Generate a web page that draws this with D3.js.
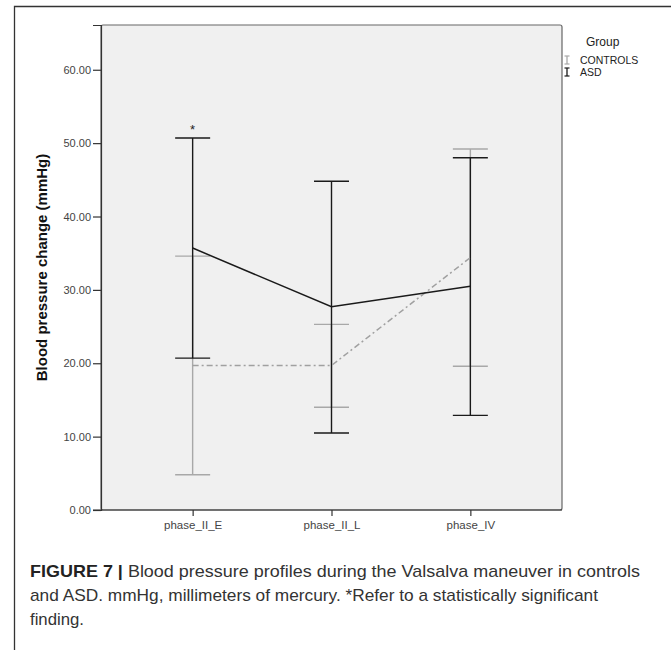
<!DOCTYPE html>
<html>
<head>
<meta charset="utf-8">
<script src="https://cdn.jsdelivr.net/npm/d3@7"></script>
<style>
  html, body { margin: 0; padding: 0; background: #fff; }
  svg { display: block; }
</style>
</head>
<body>
<svg id="chart" width="671" height="650"></svg>
<script>
// ---- data ----
const categories = ["phase_II_E", "phase_II_L", "phase_IV"];
const controlsMean  = [19.7, 19.7, 34.4];
const controlsLow   = [4.8, 14.0, 19.6];
const controlsHigh  = [34.6, 25.3, 49.2];
const asdMean  = [35.7, 27.7, 30.5];
const asdLow   = [20.7, 10.5, 12.9];
const asdHigh  = [50.7, 44.8, 48.0];
const yTicks = [0, 10, 20, 30, 40, 50, 60];
const significant = ["phase_II_E"];
const legendLabels = ["CONTROLS", "ASD"];

// ---- layout ----
const svg = d3.select("#chart");
const plot = { left: 101, right: 562, top: 25, bottom: 510 };
const font = "'Liberation Sans', Arial, sans-serif";

// outer frame
svg.append("path")
  .attr("d", "M14.5,650 L14.5,6.5 L671,6.5")
  .attr("fill", "none").attr("stroke", "#333").attr("stroke-width", 1.3);

const x = d3.scalePoint().domain(categories).range([plot.left, plot.right]).padding(0.66);
const y = d3.scaleLinear().domain([0, 66.1]).range([plot.bottom, plot.top]);

// plot background
svg.append("rect")
  .attr("x", plot.left).attr("y", plot.top)
  .attr("width", plot.right - plot.left).attr("height", plot.bottom - plot.top)
  .attr("rx", 2)
  .attr("fill", "#f0f0f0").attr("stroke", "#666").attr("stroke-width", 1.2);

// y axis
const yAxis = d3.axisLeft(y).tickValues(yTicks).tickFormat(d3.format(".2f")).tickSize(8).tickPadding(2);
const gy = svg.append("g").attr("transform", `translate(${plot.left},0)`).call(yAxis);
gy.select(".domain").attr("stroke", "#333").attr("stroke-width", 1.2);
gy.selectAll(".tick line").attr("stroke", "#333").attr("stroke-width", 1.2);
gy.selectAll(".tick text").attr("font-family", font).attr("font-size", 11).attr("fill", "#444");

// x axis
const xAxis = d3.axisBottom(x).tickSize(6).tickPadding(5);
const gx = svg.append("g").attr("transform", `translate(0,${plot.bottom})`).call(xAxis);
gx.select(".domain").remove();
svg.append("line").attr("x1", plot.left - 8).attr("x2", plot.right)
  .attr("y1", plot.bottom).attr("y2", plot.bottom)
  .attr("stroke", "#333").attr("stroke-width", 1.2);
gx.selectAll(".tick line").attr("stroke", "#333").attr("stroke-width", 1.2);
gx.selectAll(".tick text").attr("font-family", font).attr("font-size", 11.5).attr("fill", "#444");

// y label
svg.append("text")
  .attr("transform", `translate(47,${(plot.top + plot.bottom) / 2 + 0}) rotate(-90)`)
  .attr("text-anchor", "middle")
  .attr("font-family", font).attr("font-size", 15).attr("font-weight", "bold")
  .attr("fill", "#111")
  .text("Blood pressure change (mmHg)");

const capHalf = 17.5;
function drawBars(mean, low, high, color, width) {
  const g = svg.append("g");
  categories.forEach((c, i) => {
    const cx = x(c);
    g.append("line").attr("x1", cx).attr("x2", cx).attr("y1", y(low[i])).attr("y2", y(high[i]))
      .attr("stroke", color).attr("stroke-width", width);
    [low[i], high[i]].forEach(v => {
      g.append("line").attr("x1", cx - capHalf).attr("x2", cx + capHalf).attr("y1", y(v)).attr("y2", y(v))
        .attr("stroke", color).attr("stroke-width", width);
    });
  });
}

// controls
drawBars(controlsMean, controlsLow, controlsHigh, "#a8a8a8", 1.4);
// asd
drawBars(asdMean, asdLow, asdHigh, "#1a1a1a", 1.4);

const line = d3.line().x((d, i) => x(categories[i])).y(d => y(d));
svg.append("path").datum(controlsMean).attr("d", line)
  .attr("fill", "none").attr("stroke", "#a0a0a0").attr("stroke-width", 1.5)
  .attr("stroke-dasharray", "6,3,2,3");
svg.append("path").datum(asdMean).attr("d", line)
  .attr("fill", "none").attr("stroke", "#1a1a1a").attr("stroke-width", 1.5);

// significance marker
significant.forEach(c => {
  const i = categories.indexOf(c);
  svg.append("text").attr("x", x(c)).attr("y", y(asdHigh[i]) - 4)
    .attr("text-anchor", "middle").attr("font-family", font).attr("font-size", 13)
    .attr("fill", "#222").text("*");
});

// legend
svg.append("text").attr("x", 586).attr("y", 46)
  .attr("font-family", font).attr("font-size", 12).attr("fill", "#222").text("Group");
const legColors = ["#a8a8a8", "#1a1a1a"];
legendLabels.forEach((lab, i) => {
  const ly = 64 + i * 12;
  const gx0 = 567;
  const g = svg.append("g");
  g.append("line").attr("x1", gx0).attr("x2", gx0).attr("y1", ly - 8).attr("y2", ly)
    .attr("stroke", legColors[i]).attr("stroke-width", 1.3);
  g.append("line").attr("x1", gx0 - 2.5).attr("x2", gx0 + 2.5).attr("y1", ly - 8).attr("y2", ly - 8)
    .attr("stroke", legColors[i]).attr("stroke-width", 1.2);
  g.append("line").attr("x1", gx0 - 2.5).attr("x2", gx0 + 2.5).attr("y1", ly).attr("y2", ly)
    .attr("stroke", legColors[i]).attr("stroke-width", 1.2);
  g.append("text").attr("x", 580).attr("y", ly)
    .attr("font-family", font).attr("font-size", 10.5).attr("fill", "#222").text(lab);
});

// caption
const capFont = "'Liberation Sans', Arial, sans-serif";
const cap = svg.append("g").attr("font-family", capFont).attr("font-size", 17).attr("fill", "#333");
const t1 = cap.append("text").attr("x", 30).attr("y", 577)
  .attr("textLength", 610).attr("lengthAdjust", "spacingAndGlyphs");
t1.append("tspan").attr("font-weight", "bold").attr("fill", "#222").text("FIGURE 7 | ");
t1.append("tspan").text("Blood pressure profiles during the Valsalva maneuver in controls");
cap.append("text").attr("x", 30).attr("y", 601)
  .attr("textLength", 568).attr("lengthAdjust", "spacingAndGlyphs")
  .text("and ASD. mmHg, millimeters of mercury. *Refer to a statistically significant");
cap.append("text").attr("x", 30).attr("y", 625)
  .attr("textLength", 54).attr("lengthAdjust", "spacingAndGlyphs")
  .text("finding.");
</script>
</body>
</html>
